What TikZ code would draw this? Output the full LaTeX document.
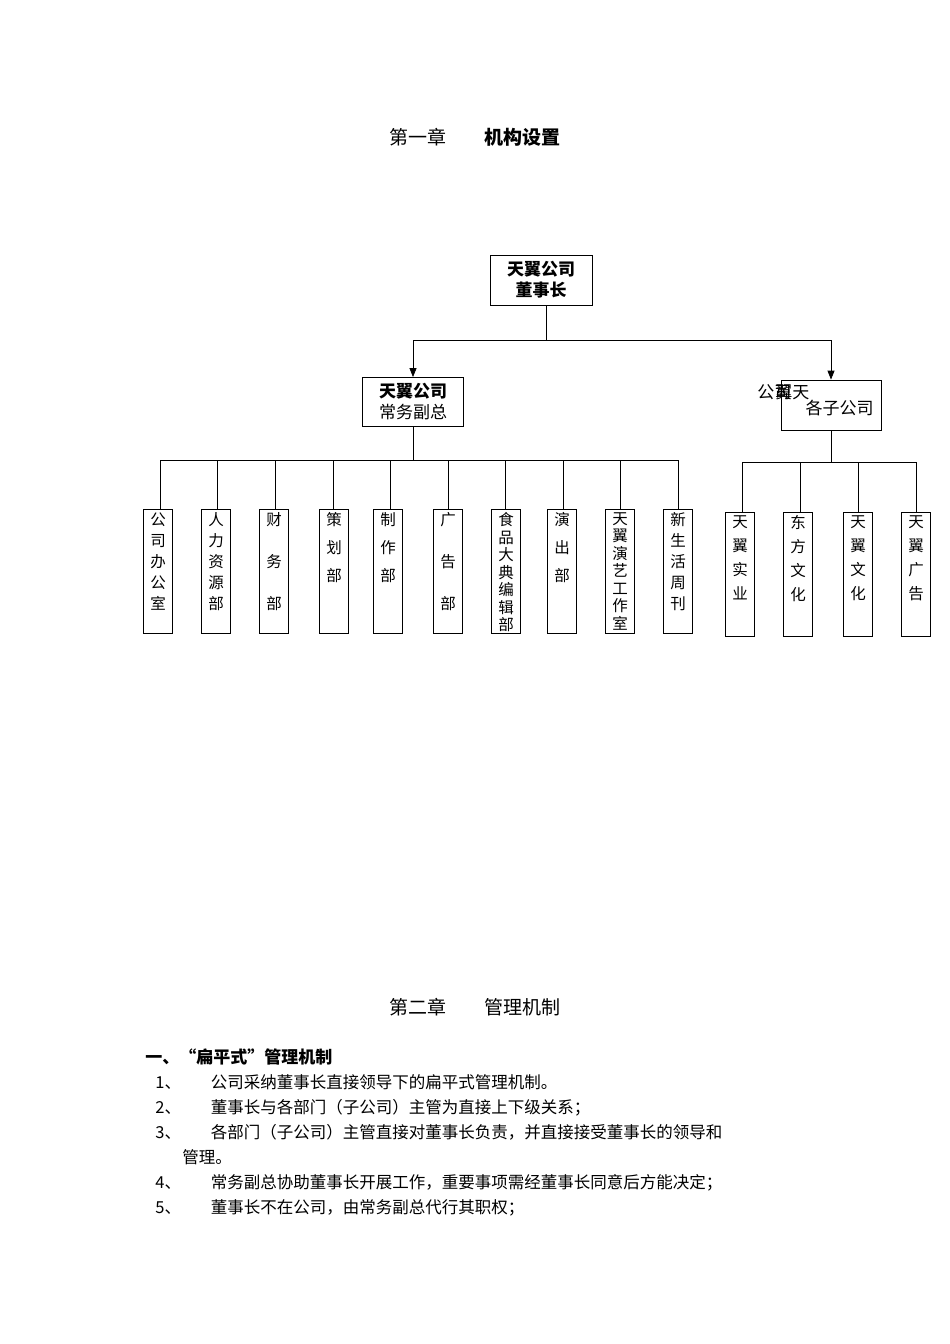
\documentclass[tikz,border=0pt]{standalone}
\usepackage{fontspec}
\setmainfont{Noto Sans CJK SC}
\usetikzlibrary{arrows.meta}
\tikzset{
  unit/.style={draw, thick, align=center, inner sep=2pt, font=\fontsize{17}{21}\selectfont},
  dept/.style={draw, thick, minimum width=29, minimum height=124, anchor=north, inner sep=0pt},
  vlabel/.style={anchor=north, align=center, inner sep=0pt},
  bodyline/.style={anchor=base west, inner sep=0pt, font=\fontsize{16.5}{20}\selectfont}
}
\begin{document}
\begin{tikzpicture}[x=1pt, y=-1pt, every path/.style={thick}]
  \useasboundingbox (0,0) rectangle (950,1344);

  % Chapter one title
  \node[anchor=base, inner sep=0pt, font=\fontsize{19}{22}\selectfont] (T1) at (475,144)
    {第一章\hspace{2em}\textbf{机构设置}};

  % Chairman and second level
  \node[unit, minimum width=102, minimum height=50] (CH) at (541,280) {\textbf{天翼公司}\\\textbf{董事长}};
  \node[unit, minimum width=101, minimum height=49] (VP) at (413,402) {\textbf{天翼公司}\\常务副总};
  \node[unit, minimum width=100, minimum height=50, text depth=0pt] (SUB) at (831,405) {\\[-2pt]\hspace*{1em}各子公司};
  \node[anchor=base west, inner sep=0pt, font=\fontsize{17}{21}\selectfont] (SUBa) at (757,398) {公司};
  \node[anchor=base west, inner sep=0pt, font=\fontsize{17}{21}\selectfont] (SUBb) at (775,398) {翼天};

  \coordinate (J1) at (546,340);
  \draw (CH.south -| J1) -- (J1);
  \draw (VP.north |- J1) -- (SUB.north |- J1);
  \draw[-{Triangle[length=9pt,width=7pt]}] (VP.north |- J1) -- (VP.north);
  \draw[-{Triangle[length=9pt,width=7pt]}] (SUB.north |- J1) -- (SUB.north);

  % Departments under the vice president
  \coordinate (J2) at (413,460);
  \draw (VP.south) -- (J2);
  \draw (160,460) -- (678,460);
  \foreach \x/\name/\sk [count=\i] in {
      158/{公\\司\\办\\公\\室}/21,
      216/{人\\力\\资\\源\\部}/21,
      274/{财\\务\\部}/42,
      334/{策\\划\\部}/28,
      388/{制\\作\\部}/28,
      448/{广\\告\\部}/42,
      506/{食\\品\\大\\典\\编\\辑\\部}/17.5,
      562/{演\\出\\部}/28,
      620/{天\\翼\\演\\艺\\工\\作\\室}/17.5,
      678/{新\\生\\活\\周\\刊}/21}
  {
    \node[dept] (D\i) at (\x,509) {};
    \node[vlabel, font=\fontsize{15.5}{\sk}\selectfont] (DL\i) at ([yshift=-3pt]D\i.north) {\name};
  }
  \foreach \x [count=\i] in {160,217,275,333,390,448,505,563,620,678}
    \draw (\x,460) -- (\x,509);

  % Subsidiaries
  \draw (SUB.south) -- (SUB.south |- 0,462);
  \draw (742,462) -- (916,462);
  \foreach \x/\name [count=\i] in {
      740/{天\\翼\\实\\业},
      798/{东\\方\\文\\化},
      858/{天\\翼\\文\\化},
      916/{天\\翼\\广\\告}}
  {
    \node[dept] (S\i) at (\x,512) {};
    \node[vlabel, font=\fontsize{15.5}{24}\selectfont] (SL\i) at ([yshift=-3pt]S\i.north) {\name};
  }
  \foreach \x in {742,800,858,916}
    \draw (\x,462) -- (\x,512);

  % Chapter two
  \node[anchor=base, inner sep=0pt, font=\fontsize{19}{22}\selectfont] (T2) at (475,1014)
    {第二章\hspace{2em}管理机制};
  \node[bodyline, font=\fontsize{17}{20}\selectfont\bfseries] (H1) at (145,1063) {一、“扁平式”管理机制};
  \node[bodyline] (L1) at (155,1088) {1、\hspace{1.8em}公司采纳董事长直接领导下的扁平式管理机制。};
  \node[bodyline] (L2) at (155,1113) {2、\hspace{1.8em}董事长与各部门（子公司）主管为直接上下级关系；};
  \node[bodyline] (L3) at (155,1138) {3、\hspace{1.8em}各部门（子公司）主管直接对董事长负责，并直接接受董事长的领导和};
  \node[bodyline] (L3b) at (182,1163) {管理。};
  \node[bodyline] (L4) at (155,1188) {4、\hspace{1.8em}常务副总协助董事长开展工作，重要事项需经董事长同意后方能决定；};
  \node[bodyline] (L5) at (155,1213) {5、\hspace{1.8em}董事长不在公司，由常务副总代行其职权；};
\end{tikzpicture}
\end{document}
